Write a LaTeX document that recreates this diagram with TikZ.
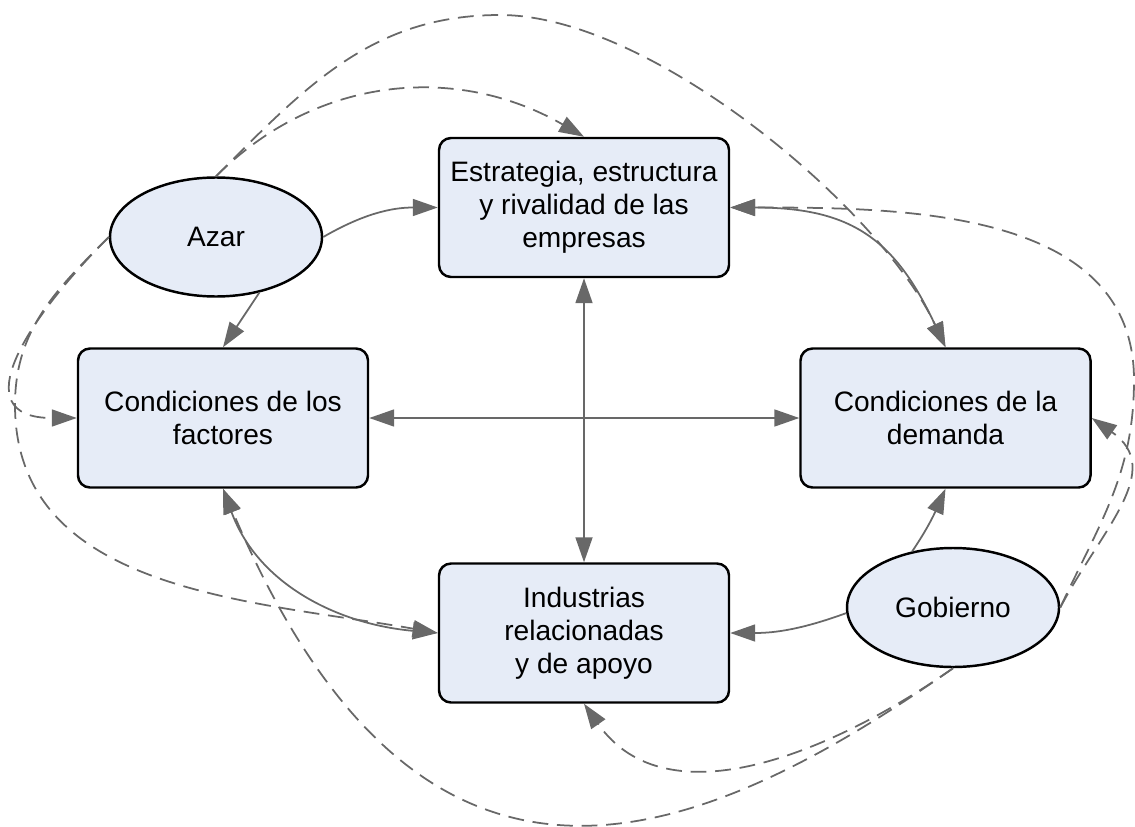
\documentclass[tikz,border=0pt]{standalone}
\usepackage{fontspec}
\setmainfont{Liberation Sans}
\usetikzlibrary{arrows.meta,shapes.geometric}
\definecolor{boxfill}{RGB}{230,236,247}
\definecolor{linkgray}{RGB}{104,104,104}

\begin{document}
\begin{tikzpicture}[x=0.2mm,y=0.2mm,
    >={Triangle[length=5mm,width=3.4mm]},
    factor/.style={draw=black,line width=1.4pt,fill=boxfill,rounded corners=2.4mm,
      minimum width=5.8cm,minimum height=2.78cm,align=center,
      font=\fontsize{16}{18.7}\selectfont},
    agent/.style={ellipse,draw=black,line width=1.4pt,fill=boxfill,
      minimum width=4.24cm,minimum height=2.38cm,
      font=\fontsize{16}{18.7}\selectfont},
    link/.style={color=linkgray,line width=1pt},
    influence/.style={link,->,dash pattern=on 9pt off 5pt}]
  \useasboundingbox (0,0) rectangle (1135,826);

  \node[factor] (est) at (584,618.5) {Estrategia, estructura\\y rivalidad de las\\empresas};
  \node[factor] (fac) at (223,408) {Condiciones de los\\factores};
  \node[factor] (dem) at (945.5,408) {Condiciones de la\\demanda};
  \node[factor] (ind) at (584,193) {Industrias\\relacionadas\\y de apoyo};
  \node[agent] (azar) at (216,589) {Azar};
  \node[agent] (gob) at (953,218.5) {Gobierno};
  \coordinate (arctop) at (500,811);
  \coordinate (leftpt) at (15,421);
  \coordinate (rightpt) at (1134,446);

  % solid links
  \draw[link,<->] (est.south) -- (ind.north);
  \draw[link,<->] (fac.east) -- (dem.west);
  \draw[link,<->] (est.east) to[out=0,in=115,looseness=1.2] (dem.north);
  \draw[link,<->] (fac.south) to[out=-70,in=175] (ind.west);
  \draw[link,->] (azar.east) to[out=30,in=180] (est.west);
  \draw[link,->] (azar.-52) -- (fac.north);
  \draw[link,->] (gob.126) to[out=56,in=-114] (dem.south);
  \draw[link,->] (gob.183) to[out=200,in=0] (ind.east);

  % dashed influences
  \draw[influence] (azar.north) to[out=45,in=150] (est.north);
  \draw[influence] (azar.north) to[out=45,in=180] (arctop)
    to[out=0,in=115,looseness=0.7] (dem.north);
  \draw[influence] (azar.west) to[out=225,in=180,looseness=1.6] (fac.west);
  \draw[influence] (azar.west) to[out=225,in=90] (leftpt)
    to[out=-90,in=170] (ind.west);
  \draw[influence] (gob.south) to[out=215,in=-55] (ind.south);
  \draw[influence] (gob.south) to[out=215,in=-67,out looseness=1.13,in looseness=1.7] (fac.south);
  \draw[influence] (gob.east) to[out=62,in=-35,looseness=1.2] (dem.east);
  \draw[influence] (gob.east) to[out=65,in=-90] (rightpt)
    to[out=90,in=0] (est.east);
\end{tikzpicture}
\end{document}
